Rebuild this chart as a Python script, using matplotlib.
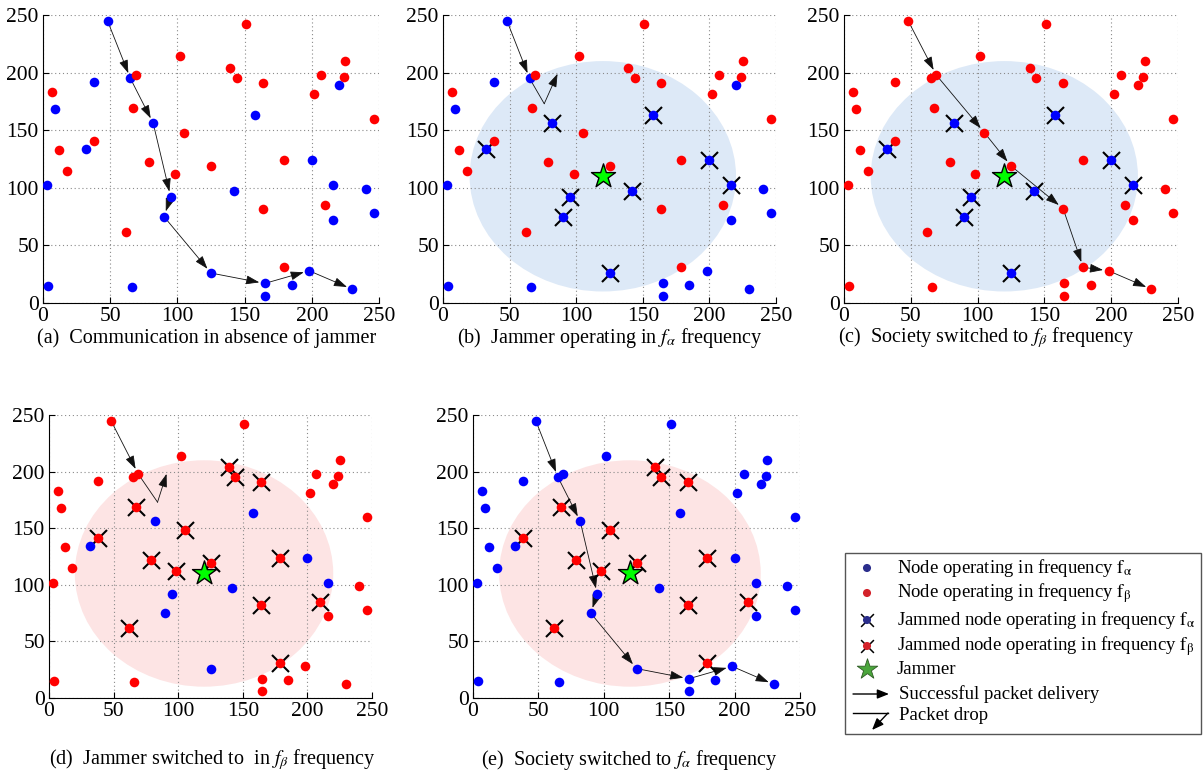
import numpy as np
import matplotlib.pyplot as plt
from matplotlib.patches import Circle, Rectangle

plt.rcParams['font.family'] = ['Liberation Serif', 'DejaVu Serif']
plt.rcParams['mathtext.fontset'] = 'stix'

# node positions
alpha_x = [48, 65, 9, 38, 32, 3, 82, 95, 90, 125, 142, 158, 165, 165, 185,
           198, 200, 216, 216, 220, 240, 246, 230, 4, 66]
alpha_y = [245, 195, 168, 192, 134, 102, 156, 92, 75, 26, 97, 163, 17, 6, 16,
           28, 124, 102, 72, 189, 99, 78, 12, 15, 14]
beta_x = [7, 12, 18, 38, 69, 67, 62, 79, 98, 102, 105, 125, 139, 144, 151,
          164, 164, 179, 179, 202, 207, 210, 224, 225, 246]
beta_y = [183, 133, 115, 141, 198, 169, 62, 122, 112, 214, 148, 119, 204, 195, 242,
          191, 82, 124, 31, 181, 198, 85, 196, 210, 160]

jammer_x, jammer_y = 120, 110
jam_radius = 100

# packet routes
route_alpha_x = [48, 65, 82, 95, 90, 125, 165, 198, 230]
route_alpha_y = [245, 195, 156, 92, 75, 26, 17, 28, 12]
route_beta_x = [48, 69, 105, 125, 164, 179, 198, 230]
route_beta_y = [245, 198, 148, 119, 82, 31, 28, 12]
drop_b_x = [48, 65, 76, 86]
drop_b_y = [245, 195, 173, 199]
drop_d_x = [48, 69, 84, 91]
drop_d_y = [245, 198, 173, 198]

captions = [r'(a)  Communication in absence of jammer',
            r'(b)  Jammer operating in $f_\alpha$ frequency',
            r'(c)  Society switched to $f_\beta$ frequency',
            r'(d)  Jammer switched to  in $f_\beta$ frequency',
            r'(e)  Society switched to $f_\alpha$ frequency']

xs = np.array(alpha_x + beta_x, dtype=float)
ys = np.array(alpha_y + beta_y, dtype=float)
blue0 = np.array([True] * len(alpha_x) + [False] * len(beta_x))
inside = np.hypot(xs - jammer_x, ys - jammer_y) < jam_radius

blue_c = blue0 & inside
blue_e = ~(~blue_c & inside)
states = [
    (blue0, np.zeros_like(blue0), None),
    (blue0, blue0 & inside, '#dde9f7'),
    (blue_c, blue_c & inside, '#dde9f7'),
    (blue_c, ~blue_c & inside, '#fde4e4'),
    (blue_e, ~blue_e & inside, '#fde4e4'),
]
routes = [
    ((route_alpha_x, route_alpha_y), None),
    ((drop_b_x[:2], drop_b_y[:2]), (drop_b_x[1:], drop_b_y[1:])),
    ((route_beta_x, route_beta_y), None),
    ((drop_d_x[:2], drop_d_y[:2]), (drop_d_x[1:], drop_d_y[1:])),
    ((route_alpha_x, route_alpha_y), None),
]

fig = plt.figure(figsize=(12.03, 7.74), dpi=100)
W, H = 1203, 774
# axes boxes in pixels: left, top, right, bottom
boxes = [(43, 15, 379, 303), (443, 15, 776, 303), (844, 15, 1178, 303),
         (49, 415, 372, 698), (473, 415, 800, 698)]
cap_pos = [(207, 338), (610, 338), (986, 338), (212, 760), (629, 760)]

arrow_kw = dict(arrowstyle='-|>,head_length=0.65,head_width=0.22', color='#111111',
                lw=0.6, mutation_scale=12.5)

for i, (l, t, r, b) in enumerate(boxes):
    ax = fig.add_axes([l / W, 1 - b / H, (r - l) / W, (b - t) / H])
    blue, jam, ccol = states[i]
    if ccol is not None:
        ax.add_patch(Circle((jammer_x, jammer_y), jam_radius, facecolor=ccol,
                            edgecolor='none', zorder=0))
    ax.set_xlim(0, 250)
    ax.set_ylim(0, 250)
    ax.set_xticks(range(0, 251, 50))
    ax.set_yticks(range(0, 251, 50))
    ax.grid(True, linestyle=(0, (1, 2.5)), color='#8a8a8a', linewidth=0.8)
    ax.set_axisbelow(True)
    for s in ['top', 'right']:
        ax.spines[s].set_visible(False)
    ax.tick_params(direction='in', length=4, labelsize=15.5, pad=3)
    ax.set_facecolor('none')

    # routes
    (rx, ry), drop = routes[i]
    for k in range(len(rx) - 1):
        ax.annotate('', xy=(rx[k + 1], ry[k + 1]), xytext=(rx[k], ry[k]),
                    arrowprops=dict(shrinkA=3, shrinkB=4, **arrow_kw), zorder=2)
    if drop is not None:
        dx, dy = drop
        ax.plot(dx[:2], dy[:2], color='#111111', lw=0.6, zorder=2)
        ax.annotate('', xy=(dx[2], dy[2]), xytext=(dx[1], dy[1]),
                    arrowprops=dict(shrinkA=0, shrinkB=0, **arrow_kw), zorder=2)

    ax.scatter(xs[jam], ys[jam], marker='x', s=150, color='black', lw=1.5, zorder=3)
    ax.scatter(xs[blue], ys[blue], s=48, color='#0000ff', lw=0, zorder=4)
    ax.scatter(xs[~blue], ys[~blue], s=48, color='#ff0000', lw=0, zorder=4)
    if ccol is not None:
        ax.scatter([jammer_x], [jammer_y], marker='*', s=330, color='#00ff00',
                   edgecolor='black', lw=1, zorder=5)

    cx, cy = cap_pos[i]
    fig.text(cx / W, 1 - cy / H, captions[i], ha='center', va='center', fontsize=14.5)

# legend drawn in pixel coordinates
lax = fig.add_axes([0, 0, 1, 1])
lax.set_xlim(0, W)
lax.set_ylim(H, 0)
lax.axis('off')
lax.add_patch(Rectangle((845, 553), 356, 181, facecolor='white', edgecolor='#555555', lw=1))
leg_rows = [568, 593, 620, 646, 669, 694, 716]
leg_text = [r'Node operating in frequency $\mathrm{f_\alpha}$',
            r'Node operating in frequency $\mathrm{f_\beta}$',
            r'Jammed node operating in frequency $\mathrm{f_\alpha}$',
            r'Jammed node operating in frequency $\mathrm{f_\beta}$',
            'Jammer',
            'Successful packet delivery',
            'Packet drop']
mx = 867
lax.scatter([mx, mx], leg_rows[:2], s=34, color=['#2b2e8c', '#d3222a'], lw=0)
lax.scatter([mx, mx], leg_rows[2:4], marker='x', s=85, color='black', lw=1.1)
lax.scatter([mx, mx], leg_rows[2:4], s=34, color=['#2b2e8c', '#d3222a'], lw=0)
lax.scatter([mx], [leg_rows[4]], marker='*', s=240, color='#4aa63c',
            edgecolor='#2d5a22', lw=0.6)
lax.annotate('', xy=(889, leg_rows[5]), xytext=(853, leg_rows[5]),
             arrowprops=dict(arrowstyle='-|>,head_length=0.5,head_width=0.2',
                             color='black', lw=1, shrinkA=0, shrinkB=0, mutation_scale=14))
lax.plot([853, 888], [713, 713], color='black', lw=1)
lax.annotate('', xy=(872, 730), xytext=(888, 713),
             arrowprops=dict(arrowstyle='-|>,head_length=0.5,head_width=0.2',
                             color='black', lw=1, shrinkA=0, shrinkB=0, mutation_scale=14))
for k, (yy, txt) in enumerate(zip(leg_rows, leg_text)):
    lax.text(897 if k < 5 else 899, yy, txt, ha='left', va='center', fontsize=13.5)

fig.savefig('out.png', dpi=100)
